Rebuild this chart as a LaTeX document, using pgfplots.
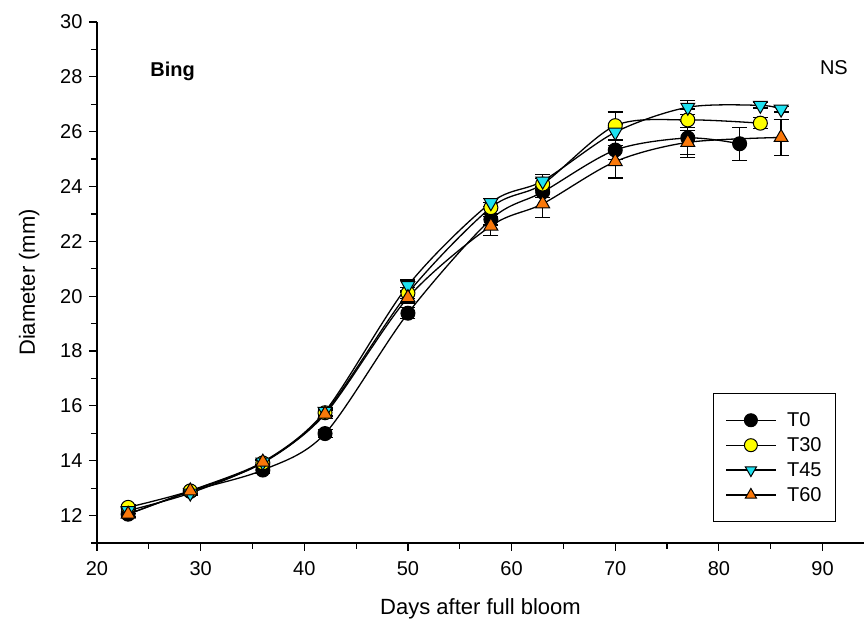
\documentclass[border=0pt]{standalone}
\usepackage{fontspec}
\setmainfont{Liberation Sans}
\usepackage{pgfplots}
\usepackage{pgfplotstable}
\pgfplotsset{compat=1.18}

\definecolor{tyellow}{RGB}{255,255,0}
\definecolor{tcyan}{RGB}{30,225,240}
\definecolor{torange}{RGB}{250,120,10}

\pgfplotstableread{
x y e
23 12.05 0.10
29 12.88 0.10
36 13.66 0.12
42 14.99 0.15
50 19.38 0.20
58 22.80 0.20
63 23.80 0.20
70 25.33 0.35
77 25.77 0.60
82 25.56 0.60
}\tzero
\pgfplotstableread{
x y e
23 12.30 0.10
29 12.90 0.10
36 13.92 0.10
42 15.75 0.15
50 20.11 0.20
58 23.23 0.20
63 24.09 0.20
70 26.22 0.50
77 26.43 0.40
84 26.31 0.20
}\tthirty
\pgfplotstableread{
x y e
23 12.18 0.10
29 12.82 0.10
36 13.95 0.10
42 15.80 0.15
50 20.39 0.20
58 23.41 0.15
63 24.20 0.25
70 25.98 0.30
77 26.89 0.25
84 26.96 0.10
86 26.82 0.10
}\tfortyfive
\pgfplotstableread{
x y e
23 12.05 0.10
29 12.90 0.10
36 13.95 0.10
42 15.70 0.15
50 19.95 0.20
58 22.56 0.35
63 23.37 0.50
70 24.91 0.60
77 25.61 0.55
86 25.79 0.65
}\tsixty

\begin{document}
\begin{tikzpicture}
\begin{axis}[
    scale only axis,
    width=767pt, height=521pt,
    at={(0,0)}, anchor=south west,
    xmin=20, xmax=94, ymin=11, ymax=30,
    axis lines=left,
    axis line style={-, line width=1.3pt},
    xtick={20,30,...,90}, minor xtick={25,35,...,85},
    ytick={12,14,...,30}, minor ytick={11,13,...,29},
    tick align=outside,
    major tick length=8pt, minor tick length=6pt,
    every tick/.style={line width=1.2pt, black},
    /pgf/number format/assume math mode=true,
    ticklabel style={font=\fontsize{20}{24}\selectfont},
    xticklabel style={yshift=-7pt},
    yticklabel style={xshift=-3pt},
    xlabel={Days after full bloom},
    ylabel={Diameter (mm)},
    label style={font=\fontsize{22}{26}\selectfont},
    xlabel style={yshift=-16pt},
    ylabel style={yshift=14pt},
    legend style={at={(0.9635,0.040)}, anchor=south east, draw=black,
        line width=1pt, font=\fontsize{20}{24}\selectfont,
        row sep=5.5pt, inner xsep=12pt, inner ysep=17pt, cells={anchor=west}},
    legend image code/.code={
        \draw[line width=1.3pt, mark size=6.5pt, mark repeat=2, mark phase=2]
            plot coordinates {(0pt,0pt) (24.5pt,0pt) (49pt,0pt)};
        \path (58pt,0pt);},
    every axis plot/.append style={line width=1.3pt},
    clip=false,
]
\addplot[black, smooth, mark=*, mark size=7pt, mark options={fill=black, draw=black, line width=1pt},
    error bars/.cd, y dir=both, y explicit,
    error bar style={line width=1.2pt, black},
    error mark options={rotate=90, mark size=7.5pt, line width=1.2pt, black}]
    table[x=x, y=y, y error=e] {\tzero};
\addplot[black, smooth, mark=*, mark size=7pt, mark options={fill=tyellow, draw=black, line width=1pt},
    error bars/.cd, y dir=both, y explicit,
    error bar style={line width=1.2pt, black},
    error mark options={rotate=90, mark size=7.5pt, line width=1.2pt, black}]
    table[x=x, y=y, y error=e] {\tthirty};
\addplot[black, smooth, mark=triangle*, mark size=8pt, mark options={fill=tcyan, draw=black, line width=1pt, rotate=180},
    error bars/.cd, y dir=both, y explicit,
    error bar style={line width=1.2pt, black},
    error mark options={rotate=90, mark size=7.5pt, line width=1.2pt, black}]
    table[x=x, y=y, y error=e] {\tfortyfive};
\addplot[black, smooth, mark=triangle*, mark size=8pt, mark options={fill=torange, draw=black, line width=1pt},
    error bars/.cd, y dir=both, y explicit,
    error bar style={line width=1.2pt, black},
    error mark options={rotate=90, mark size=7.5pt, line width=1.2pt, black}]
    table[x=x, y=y, y error=e] {\tsixty};
\legend{T0,T30,T45,T60}
\node[font=\bfseries\fontsize{20}{24}\selectfont] at (axis cs:27.3,28.2) {Bing};
\node[font=\fontsize{20}{24}\selectfont] at (axis cs:91.1,28.35) {NS};
\end{axis}
\pgfresetboundingbox
\path[use as bounding box] (-97pt,-85pt) rectangle (767pt,543pt);
\end{tikzpicture}
\end{document}
